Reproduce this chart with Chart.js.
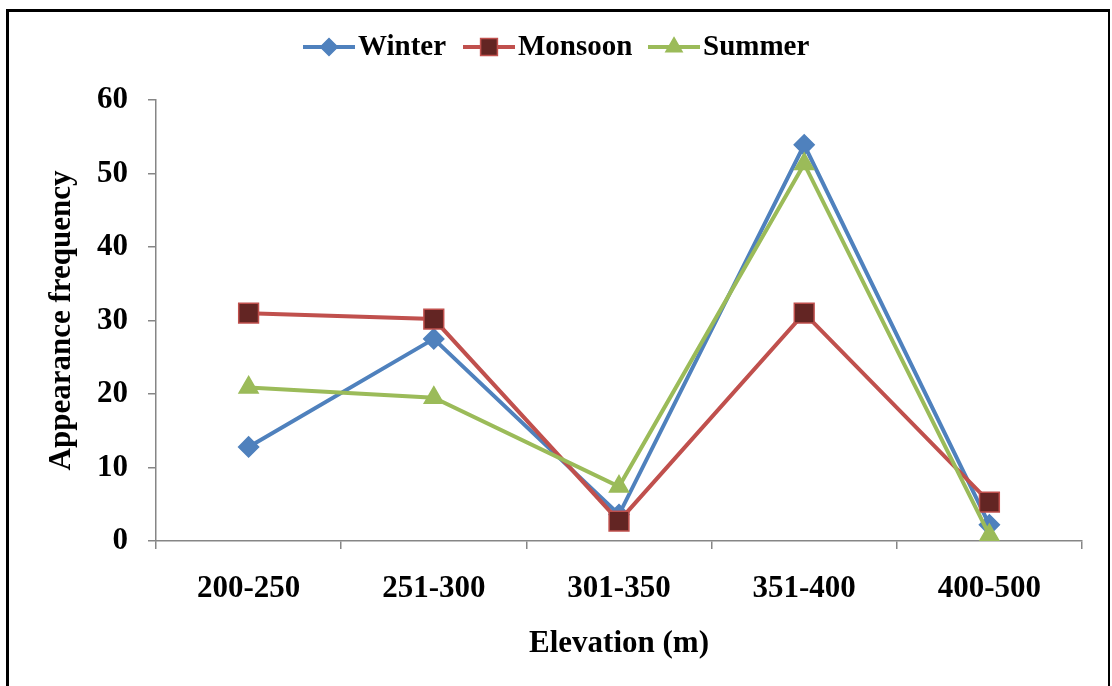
<!DOCTYPE html>
<html>
<head>
<meta charset="utf-8">
<script src="https://cdn.jsdelivr.net/npm/chart.js@4/dist/chart.umd.min.js"></script>
<style>
    html, body { margin: 0; padding: 0; background: #fff; overflow: hidden; }
    #wrap { position: relative; width: 1112px; height: 686px; }
    #frame {
        position: absolute; left: 6px; top: 9px; width: 1099px; height: 700px;
        border-left: 3px solid #000; border-top: 3px solid #000; border-right: 2px solid #000;
        pointer-events: none;
    }
    canvas { position: absolute; left: 0; top: 0; }
</style>
</head>
<body>
<div id="wrap">
    <canvas id="elevChart" width="1112" height="686"></canvas>
    <div id="frame"></div>
</div>
<script>
const categories = ['200-250', '251-300', '301-350', '351-400', '400-500'];
const winter = [12.8, 27.5, 3.6, 53.9, 2.2];
const monsoon = [31, 30.2, 2.7, 31, 5.3];
const summer = [20.9, 19.5, 7.4, 51.3, 0.8];
const yTicks = [0, 10, 20, 30, 40, 50, 60];

const FONT = '"Liberation Serif", "Times New Roman", serif';

const series = [
    { label: 'Winter', data: winter, color: '#4F81BD', fill: '#4F81BD', style: 'rectRot', radius: 10, order: 3 },
    { label: 'Monsoon', data: monsoon, color: '#C0504D', fill: '#632523', style: 'rect', radius: 14, order: 2 },
    { label: 'Summer', data: summer, color: '#9BBB59', fill: '#9BBB59', style: 'triangle', radius: 11, order: 1 }
];

// legend drawn by hand so it looks like the Excel one (line + marker + text)
const legendPlugin = {
    id: 'excelLegend',
    afterDraw(chart) {
        const ctx = chart.ctx;
        const y = 47;
        const starts = [303, 463, 648];
        ctx.save();
        ctx.font = 'bold 29px ' + FONT;
        ctx.textBaseline = 'middle';
        series.forEach((s, i) => {
            const x0 = starts[i];
            ctx.strokeStyle = s.color;
            ctx.lineWidth = 4;
            ctx.beginPath();
            ctx.moveTo(x0, y);
            ctx.lineTo(x0 + 52, y);
            ctx.stroke();
            ctx.fillStyle = s.fill;
            ctx.strokeStyle = s.color;
            ctx.lineWidth = 1.5;
            Chart.helpers.drawPoint(ctx, { pointStyle: s.style, radius: s.radius * 0.85, rotation: 0, borderWidth: 1.5 }, x0 + 26, y);
            ctx.fillStyle = '#000';
            ctx.fillText(s.label, x0 + 55, y + 1);
        });
        ctx.restore();
    }
};

new Chart(document.getElementById('elevChart'), {
    type: 'line',
    data: {
        labels: categories,
        datasets: series.map(s => ({
            label: s.label,
            data: s.data,
            order: s.order,
            borderColor: s.color,
            borderWidth: 4,
            backgroundColor: s.fill,
            pointStyle: s.style,
            pointRadius: s.radius,
            pointBackgroundColor: s.fill,
            pointBorderColor: s.color,
            pointBorderWidth: 1.5,
            tension: 0
        }))
    },
    options: {
        responsive: false,
        animation: false,
        layout: { padding: { top: 100, left: 0, right: 30, bottom: 0 } },
        plugins: { legend: { display: false }, tooltip: { enabled: false } },
        scales: {
            x: {
                offset: true,
                grid: { display: true, drawOnChartArea: false, offset: true, tickLength: 8, color: '#868686', lineWidth: 1.5 },
                border: { color: '#868686', width: 1.5 },
                ticks: { color: '#000', padding: 21, font: { family: FONT, size: 31, weight: 'bold' } },
                title: { display: true, text: 'Elevation (m)', color: '#000', padding: { bottom: 23 }, font: { family: FONT, size: 31, weight: 'bold' } },
                afterFit: (scale) => { scale.height = 145; }
            },
            y: {
                min: 0,
                max: 60,
                afterBuildTicks: (scale) => { scale.ticks = yTicks.map(v => ({ value: v })); },
                grid: { display: true, drawOnChartArea: false, tickLength: 8, color: '#868686', lineWidth: 1.5 },
                border: { color: '#868686', width: 1.5 },
                ticks: { color: '#000', padding: 20, font: { family: FONT, size: 31, weight: 'bold' } },
                title: { display: true, text: 'Appearance frequency', color: '#000', padding: { top: 43 }, font: { family: FONT, size: 31, weight: 'bold' } },
                afterFit: (scale) => { scale.width = 156; }
            }
        }
    },
    plugins: [legendPlugin]
});
</script>
</body>
</html>
